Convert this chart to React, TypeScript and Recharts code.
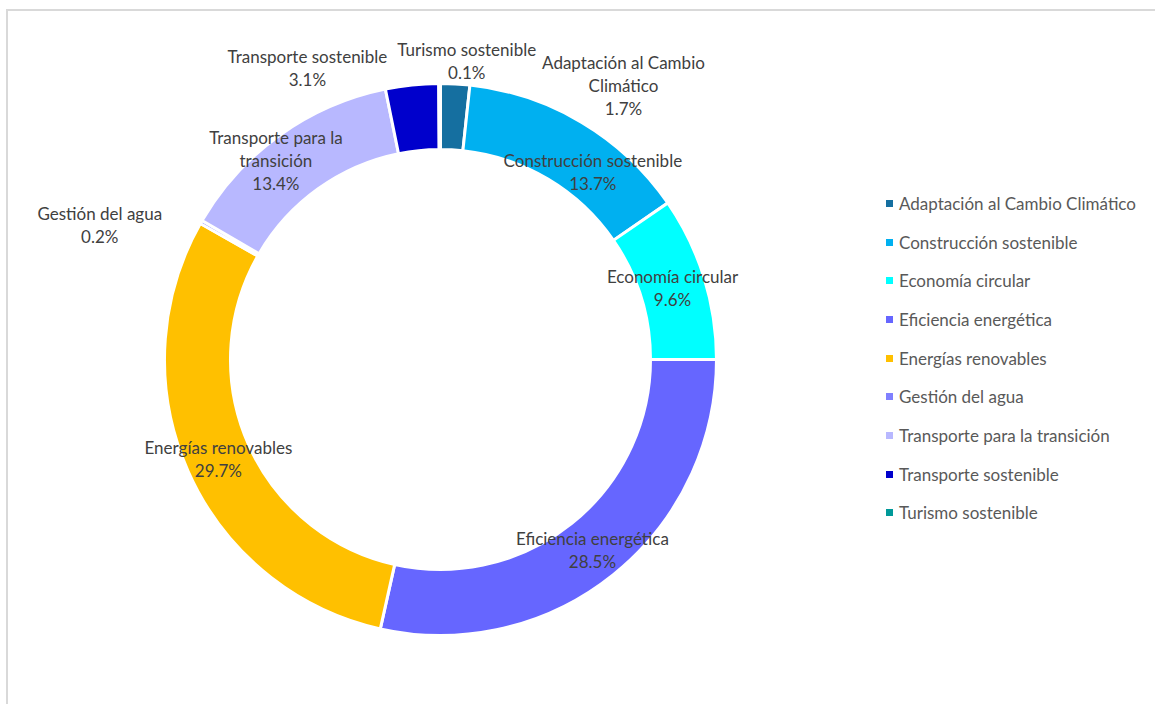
import { PieChart, Pie, Cell, Legend } from "recharts"

const categories = [
  "Adaptación al Cambio Climático",
  "Construcción sostenible",
  "Economía circular",
  "Eficiencia energética",
  "Energías renovables",
  "Gestión del agua",
  "Transporte para la transición",
  "Transporte sostenible",
  "Turismo sostenible",
]

const shares = [1.7, 13.7, 9.6, 28.5, 29.7, 0.2, 13.4, 3.1, 0.1]

const colors = [
  "#156FA0",
  "#00B0F0",
  "#00FFFF",
  "#6666FF",
  "#FFC000",
  "#8080FF",
  "#B8B8FF",
  "#0000CC",
  "#009999",
]

// how the data labels break over lines
const labelLines: Record<string, string[]> = {
  "Adaptación al Cambio Climático": ["Adaptación al Cambio", "Climático"],
  "Transporte para la transición": ["Transporte para la", "transición"],
}

const data = categories.map((name, i) => ({ name, value: shares[i] }))

// nudges away from the middle of the ring, like Excel's best fit
const labelShift: Record<string, [number, number]> = {
  "Adaptación al Cambio Climático": [170, -32],
  "Turismo sostenible": [27, -56],
  "Transporte sostenible": [-108, -50],
  "Gestión del agua": [-130, -14],
  "Transporte para la transición": [-23, -2],
  "Construcción sostenible": [28, 21],
}

const FONT = "Lato, 'Open Sans', sans-serif"
const RAD = Math.PI / 180

function renderLabel(props: any) {
  const { cx, cy, midAngle, innerRadius, outerRadius, name, value } = props
  const r = (innerRadius + outerRadius) / 2
  const [dx, dy] = labelShift[name] || [0, 0]
  const x = cx + r * Math.cos(-midAngle * RAD) + dx
  const y = cy + r * Math.sin(-midAngle * RAD) + dy
  const lines = [...(labelLines[name] || [name]), `${Number(value).toFixed(1)}%`]
  const lh = 23
  const top = y - ((lines.length - 1) * lh) / 2
  return (
    <text
      x={x}
      y={top}
      textAnchor="middle"
      dominantBaseline="central"
      fill="#404040"
      fontSize={17}
      fontFamily={FONT}
    >
      {lines.map((l, i) => (
        <tspan key={i} x={x} y={top + i * lh}>
          {l}
        </tspan>
      ))}
    </text>
  )
}

function LegendList(props: any) {
  const { payload } = props
  return (
    <div style={{ fontFamily: FONT, fontSize: 17, color: "#595959" }}>
      {(payload || []).map((item: any, i: number) => (
        <div
          key={i}
          style={{ display: "flex", alignItems: "center", height: 38.7, whiteSpace: "nowrap" }}
        >
          <span
            style={{
              display: "inline-block",
              width: 7,
              height: 7,
              background: item.color,
              marginRight: 6,
            }}
          />
          {item.value}
        </div>
      ))}
    </div>
  )
}

export default function App() {
  return (
    <div
      style={{
        position: "fixed",
        left: 0,
        top: 0,
        width: 1155,
        height: 704,
        overflow: "hidden",
        background: "#fff",
      }}
    >
      <div
        style={{
          position: "absolute",
          left: 6,
          top: 9,
          width: 1200,
          height: 760,
          borderLeft: "2px solid #D9D9D9",
          borderTop: "2px solid #D9D9D9",
        }}
      />
      <div style={{ position: "absolute", left: 0, top: 0 }}>
        <PieChart width={1155} height={704} margin={{ top: 0, right: 0, bottom: 0, left: 0 }}>
          <Pie
            data={data}
            dataKey="value"
            nameKey="name"
            cx={440.5}
            cy={359.5}
            outerRadius={276}
            innerRadius={210}
            startAngle={90}
            endAngle={-270}
            stroke="#fff"
            strokeWidth={3}
            label={renderLabel}
            labelLine={false}
            isAnimationActive={false}
          >
            {data.map((entry, index) => (
              <Cell key={`cell-${index}`} fill={colors[index]} />
            ))}
          </Pie>
          <Legend
            layout="vertical"
            content={<LegendList />}
            wrapperStyle={{ position: "absolute", left: 886, top: 184, width: 270 }}
          />
        </PieChart>
      </div>
    </div>
  )
}
